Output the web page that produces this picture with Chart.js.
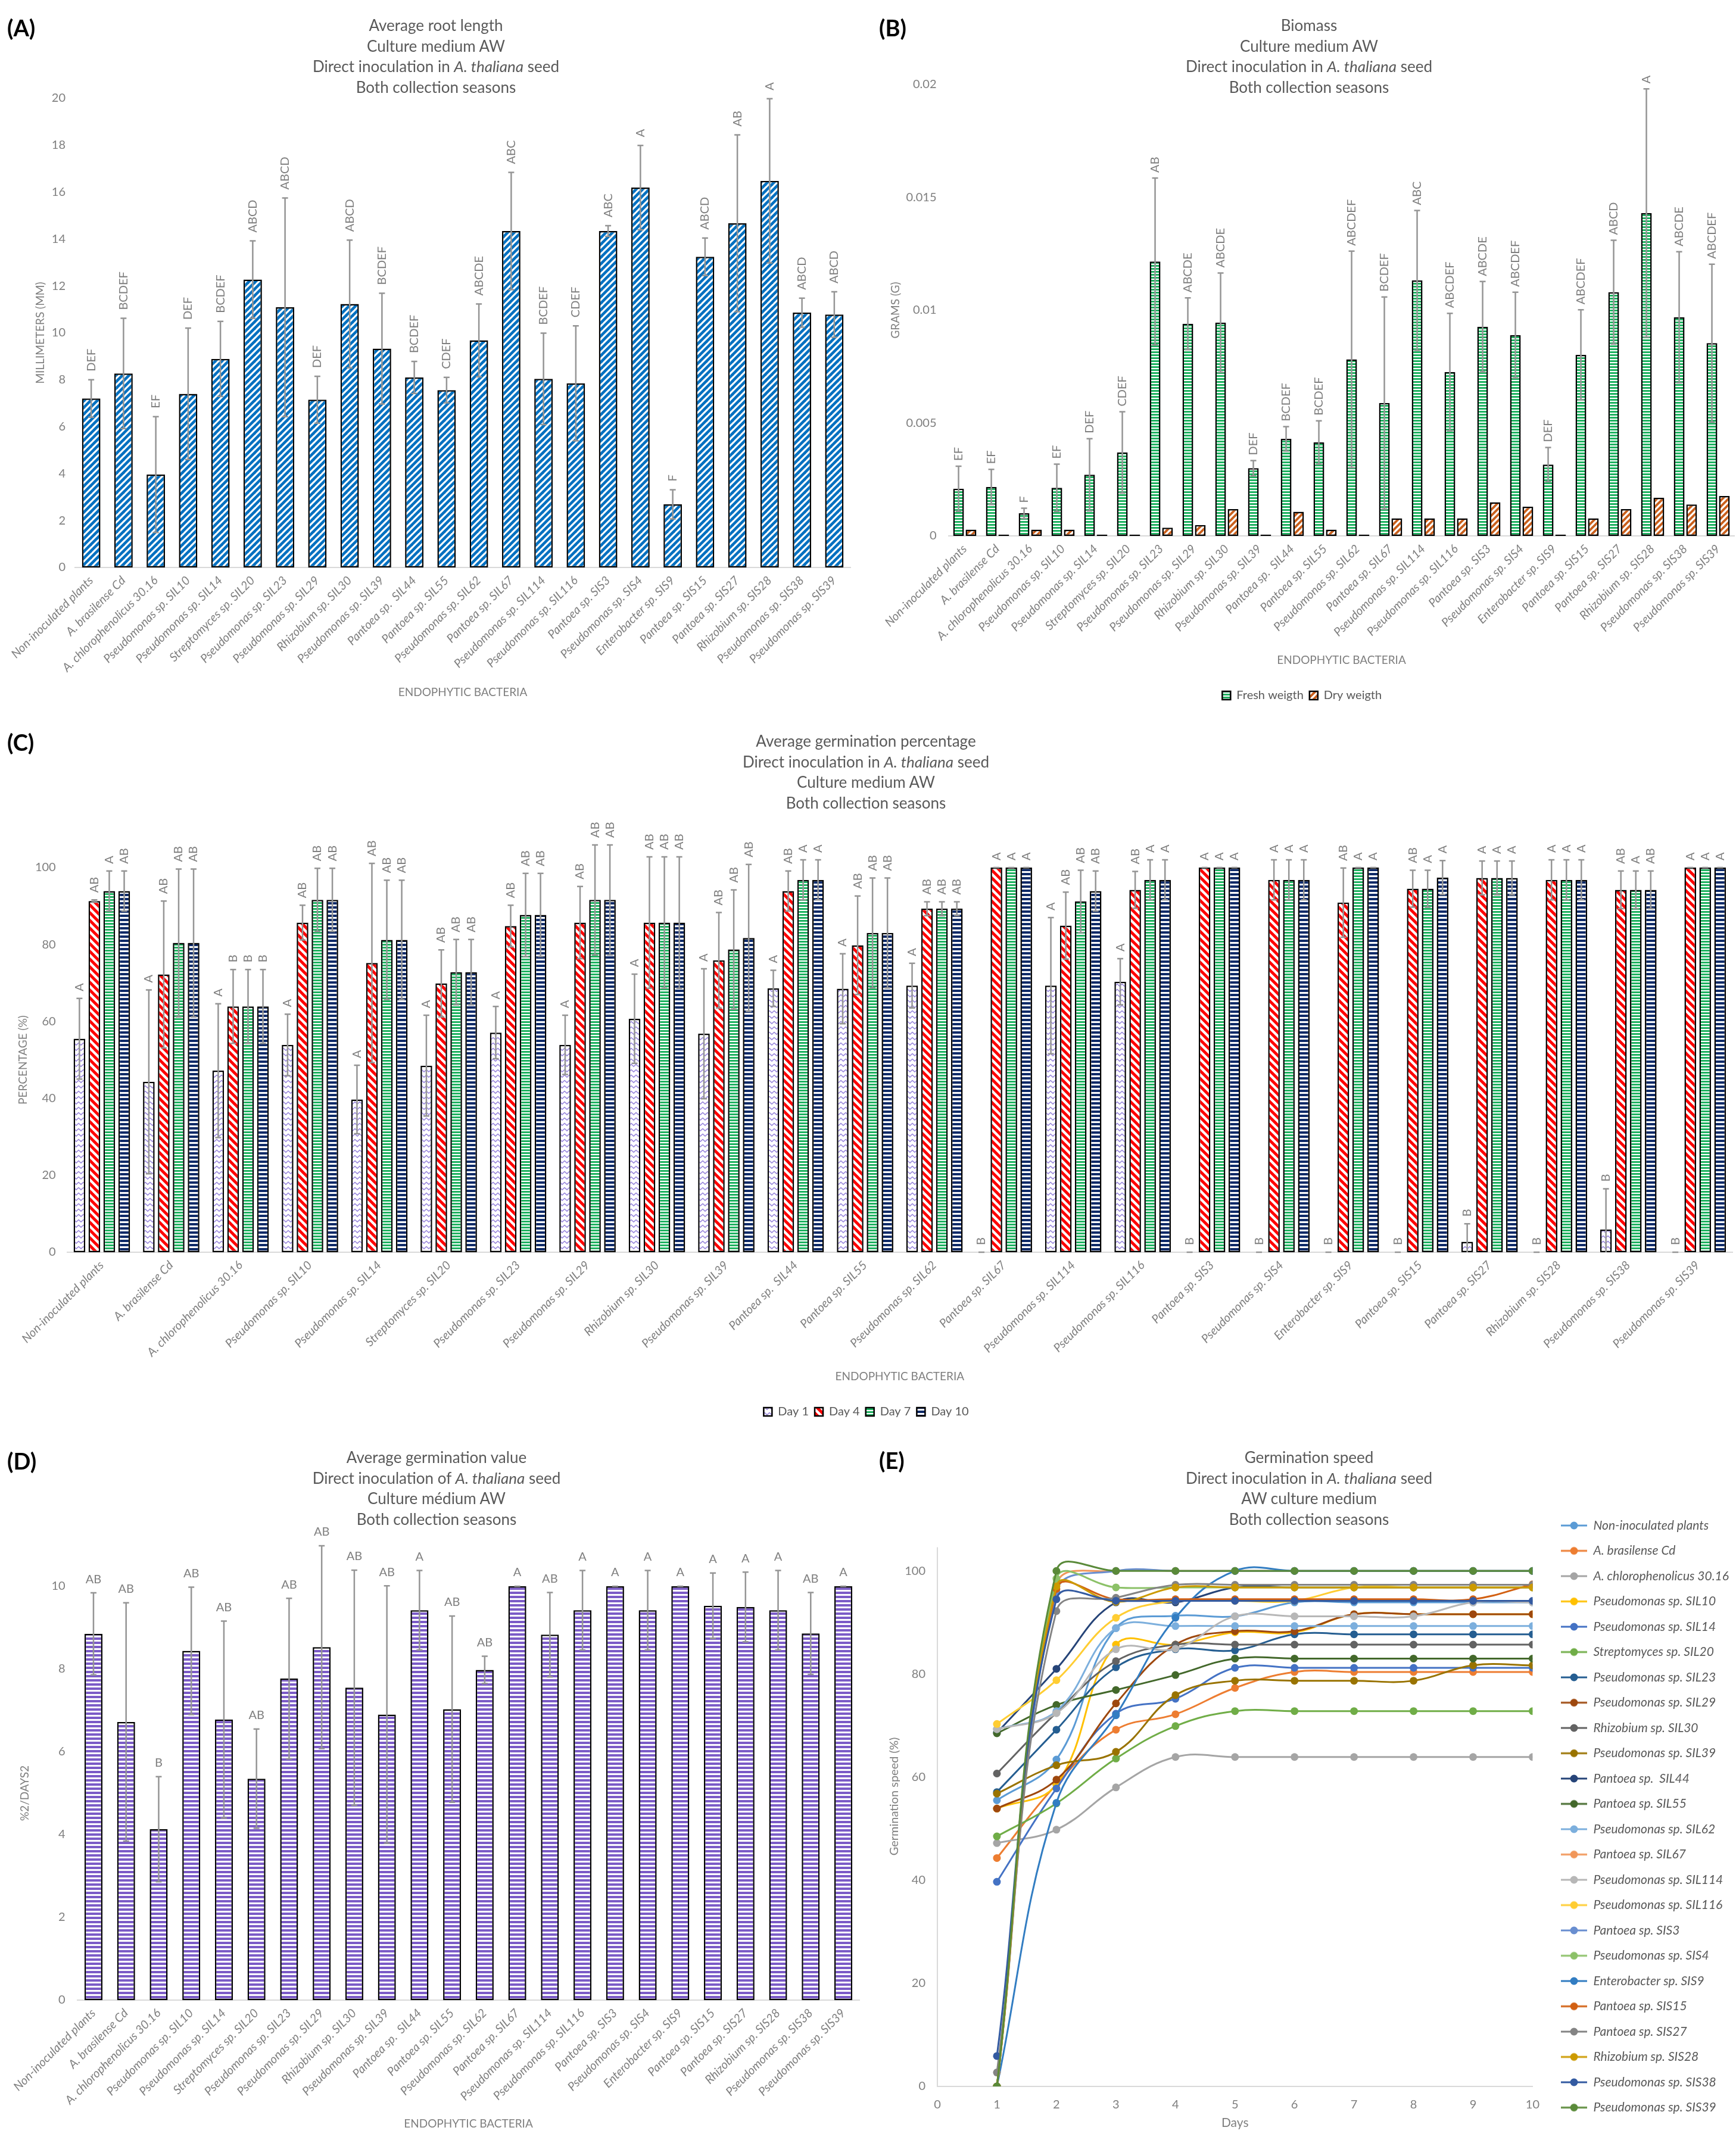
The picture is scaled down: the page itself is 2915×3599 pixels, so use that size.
<!DOCTYPE html>
<html>
<head>
<meta charset="utf-8">
<script src="https://cdn.jsdelivr.net/npm/chart.js@4.4.1/dist/chart.umd.min.js"></script>
<style>
  body { margin: 0; background: #fff; }
  #page { position: relative; width: 2915px; height: 3599px; overflow: hidden; font-family: Lato, "Liberation Sans", sans-serif; }
  canvas { position: absolute; }
  .plabel { position: absolute; font-weight: bold; font-size: 38px; line-height: 1; color: #000; }
  .ptitle { position: absolute; width: 900px; text-align: center; font-size: 26px; line-height: 34.5px; color: #595959; white-space: nowrap; }
</style>
</head>
<body>
<div id="page">
  <canvas id="cA" width="1460" height="1200" style="left:0;top:0"></canvas>
  <canvas id="cB" width="1455" height="1200" style="left:1460px;top:0"></canvas>
  <canvas id="cC" width="2915" height="1200" style="left:0;top:1200px"></canvas>
  <canvas id="cD" width="1460" height="1199" style="left:0;top:2400px"></canvas>
  <canvas id="cE" width="1455" height="1199" style="left:1460px;top:2400px"></canvas>

  <div class="plabel" style="left:12px;top:27px">(A)</div>
  <div class="plabel" style="left:1476px;top:27px">(B)</div>
  <div class="plabel" style="left:12px;top:1227px">(C)</div>
  <div class="plabel" style="left:12px;top:2434px">(D)</div>
  <div class="plabel" style="left:1476px;top:2433px">(E)</div>

  <div class="ptitle" style="left:282px;top:25px">Average root length<br>Culture medium AW<br>Direct inoculation in <i>A. thaliana</i> seed<br>Both collection seasons</div>
  <div class="ptitle" style="left:1748px;top:25px">Biomass<br>Culture medium AW<br>Direct inoculation in <i>A. thaliana</i> seed<br>Both collection seasons</div>
  <div class="ptitle" style="left:1004px;top:1227px">Average germination percentage<br>Direct inoculation in <i>A. thaliana</i> seed<br>Culture medium AW<br>Both collection seasons</div>
  <div class="ptitle" style="left:283px;top:2430px">Average germination value<br>Direct inoculation of <i>A. thaliana</i> seed<br>Culture médium AW<br>Both collection seasons</div>
  <div class="ptitle" style="left:1748px;top:2430px">Germination speed<br>Direct inoculation in <i>A. thaliana</i> seed<br>AW culture medium<br>Both collection seasons</div>
</div>

<script>
// ---- data ----
const catNames = ['Non-inoculated plants', 'A. brasilense Cd', 'A. chlorophenolicus 30.16', 'Pseudomonas sp. SIL10',
  'Pseudomonas sp. SIL14', 'Streptomyces sp. SIL20', 'Pseudomonas sp. SIL23', 'Pseudomonas sp. SIL29',
  'Rhizobium sp. SIL30', 'Pseudomonas sp. SIL39', 'Pantoea sp.  SIL44', 'Pantoea sp. SIL55',
  'Pseudomonas sp. SIL62', 'Pantoea sp. SIL67', 'Pseudomonas sp. SIL114', 'Pseudomonas sp. SIL116',
  'Pantoea sp. SIS3', 'Pseudomonas sp. SIS4', 'Enterobacter sp. SIS9', 'Pantoea sp. SIS15',
  'Pantoea sp. SIS27', 'Rhizobium sp. SIS28', 'Pseudomonas sp. SIS38', 'Pseudomonas sp. SIS39'];

// (A) root length, mm
const rootMean = [7.2, 8.27, 3.96, 7.4, 8.89, 12.27, 11.09, 7.15, 11.23, 9.33, 8.1, 7.56, 9.68, 14.34, 8.04, 7.85, 14.34, 16.19, 2.69, 13.24, 14.67, 16.48, 10.86, 10.78];
const rootErr = [0.8, 2.35, 2.47, 2.8, 1.6, 1.65, 4.66, 1.0, 2.72, 2.36, 0.68, 0.54, 1.55, 2.5, 1.95, 2.45, 0.23, 1.8, 0.62, 0.8, 3.77, 3.5, 0.62, 0.97];
const rootLetters = ['DEF', 'BCDEF', 'EF', 'DEF', 'BCDEF', 'ABCD', 'ABCD', 'DEF', 'ABCD', 'BCDEF', 'BCDEF', 'CDEF', 'ABCDE', 'ABC', 'BCDEF', 'CDEF', 'ABC', 'A', 'F', 'ABCD', 'AB', 'A', 'ABCD', 'ABCD'];

// (B) biomass, g
const freshMean = [0.00209, 0.00217, 0.0010, 0.00213, 0.00271, 0.0037, 0.01216, 0.0094, 0.00945, 0.0030, 0.0043, 0.00414, 0.00782, 0.00589, 0.01132, 0.00726, 0.00927, 0.0089, 0.00316, 0.00802, 0.0108, 0.01431, 0.00969, 0.00854];
const freshErr = [0.001, 0.00078, 0.00023, 0.00105, 0.0016, 0.0018, 0.0037, 0.00115, 0.0022, 0.00034, 0.00054, 0.00096, 0.0048, 0.0047, 0.0031, 0.0026, 0.002, 0.0019, 0.00076, 0.002, 0.0023, 0.0055, 0.0029, 0.0035];
const freshLetters = ['EF', 'EF', 'F', 'EF', 'DEF', 'CDEF', 'AB', 'ABCDE', 'ABCDE', 'DEF', 'BCDEF', 'BCDEF', 'ABCDEF', 'BCDEF', 'ABC', 'ABCDEF', 'ABCDE', 'ABCDEF', 'DEF', 'ABCDEF', 'ABCD', 'A', 'ABCDE', 'ABCDEF'];
const dryMean = [0.00028, 0.00006, 0.00028, 0.00028, 0.00006, 0.00006, 0.00036, 0.00048, 0.00119, 0.00006, 0.00107, 0.00028, 0.00006, 0.00078, 0.00078, 0.00078, 0.00149, 0.00129, 0.00006, 0.00078, 0.00119, 0.00169, 0.00139, 0.00177];

// (C) germination percentage
const germDay1 = [55.5, 44.3, 47.2, 53.9, 39.7, 48.5, 57.1, 53.9, 60.7, 56.8, 68.6, 68.5, 69.3, 0, 69.3, 70.3, 0, 0, 0, 0, 2.7, 0, 5.9, 0];
const errDay1 = [10.5, 23.9, 17.4, 8, 8.9, 13.1, 6.8, 7.7, 11.6, 16.9, 4.7, 9.1, 5.8, 0, 17.7, 6, 0, 0, 0, 0, 4.7, 0, 10.6, 0];
const letDay1 = ['A', 'A', 'A', 'A', 'A', 'A', 'A', 'A', 'A', 'A', 'A', 'A', 'A', 'B', 'A', 'A', 'B', 'B', 'B', 'B', 'B', 'B', 'B', 'B'];
const germDay4 = [91.3, 72.2, 63.9, 85.7, 75.2, 69.9, 84.8, 85.7, 85.7, 75.9, 93.9, 79.8, 89.3, 100, 84.9, 94.2, 100, 96.8, 90.9, 94.5, 97.3, 96.8, 94.2, 100];
const errDay4 = [0.3, 19.1, 9.6, 4.5, 25.9, 8.7, 5.4, 9.4, 17.1, 12.4, 5.2, 12.8, 1.8, 0, 8.7, 4.8, 0, 5.2, 9, 4.8, 4.4, 5.2, 4.9, 0];
const letDay4 = ['AB', 'AB', 'B', 'AB', 'AB', 'AB', 'AB', 'AB', 'AB', 'AB', 'AB', 'AB', 'AB', 'A', 'AB', 'AB', 'A', 'A', 'AB', 'AB', 'A', 'A', 'AB', 'A'];
const germDay7 = [93.9, 80.4, 63.9, 91.6, 81.2, 72.8, 87.7, 91.6, 85.7, 78.7, 96.8, 83.0, 89.3, 100, 91.2, 96.8, 100, 96.8, 100, 94.5, 97.3, 96.8, 94.2, 100];
const errDay7 = [5.2, 19.2, 9.6, 8.2, 15.5, 8.5, 10.8, 14.3, 17.1, 15.5, 5.2, 14.3, 1.8, 0, 8.1, 5.2, 0, 5.2, 0, 4.8, 4.4, 5.2, 4.9, 0];
const letDay7 = ['A', 'AB', 'B', 'AB', 'AB', 'AB', 'AB', 'AB', 'AB', 'AB', 'A', 'AB', 'AB', 'A', 'AB', 'A', 'A', 'A', 'A', 'A', 'A', 'A', 'A', 'A'];
const germDay10 = [93.9, 80.4, 63.9, 91.6, 81.2, 72.8, 87.7, 91.6, 85.7, 81.7, 96.8, 83.0, 89.3, 100, 93.9, 96.8, 100, 96.8, 100, 97.4, 97.3, 96.8, 94.2, 100];
const errDay10 = [5.2, 19.2, 9.6, 8.2, 15.5, 8.5, 10.8, 14.3, 17.1, 19.1, 5.2, 14.3, 1.8, 0, 5.2, 5.2, 0, 5.2, 0, 4.4, 4.4, 5.2, 4.9, 0];
const letDay10 = ['AB', 'AB', 'B', 'AB', 'AB', 'AB', 'AB', 'AB', 'AB', 'AB', 'A', 'AB', 'AB', 'A', 'AB', 'A', 'A', 'A', 'A', 'A', 'A', 'A', 'AB', 'A'];

// (D) germination value
const gvMean = [8.85, 6.72, 4.13, 8.44, 6.78, 5.35, 7.77, 8.53, 7.55, 6.9, 9.42, 7.03, 7.98, 10, 8.83, 9.42, 10, 9.42, 10, 9.53, 9.5, 9.42, 8.86, 10];
const gvErr = [0.99, 2.88, 1.27, 1.54, 2.38, 1.2, 1.94, 2.45, 2.84, 3.11, 0.96, 2.25, 0.33, 0, 1.02, 0.96, 0, 0.96, 0, 0.79, 0.84, 0.96, 0.99, 0];
const gvLetters = ['AB', 'AB', 'B', 'AB', 'AB', 'AB', 'AB', 'AB', 'AB', 'AB', 'A', 'AB', 'AB', 'A', 'AB', 'A', 'A', 'A', 'A', 'A', 'A', 'A', 'AB', 'A'];

// (E) germination speed, one row per strain (same order as catNames), days 1..10
const days = [1, 2, 3, 4, 5, 6, 7, 8, 9, 10];
const speedRows = [
  [55.5, 63.4, 88.9, 91.3, 91.2, 93.9, 93.9, 93.9, 93.9, 93.9],
  [44.3, 58.6, 69.2, 72.2, 77.3, 80.4, 80.4, 80.4, 80.4, 80.4],
  [47.2, 49.8, 58.0, 63.9, 63.9, 63.9, 63.9, 63.9, 63.9, 63.9],
  [53.9, 58.6, 85.7, 85.7, 88.1, 88.1, 91.6, 91.6, 91.6, 91.6],
  [39.7, 57.8, 72.3, 75.2, 81.2, 81.2, 81.2, 81.2, 81.2, 81.2],
  [48.5, 54.9, 63.6, 69.9, 72.8, 72.8, 72.8, 72.8, 72.8, 72.8],
  [57.1, 69.2, 81.3, 84.8, 84.6, 87.7, 87.7, 87.7, 87.7, 87.7],
  [53.9, 59.5, 74.3, 85.7, 88.3, 88.3, 91.6, 91.6, 91.6, 91.6],
  [60.7, 72.5, 82.5, 85.7, 85.7, 85.7, 85.7, 85.7, 85.7, 85.7],
  [56.8, 62.3, 64.9, 75.9, 78.7, 78.7, 78.7, 78.7, 81.7, 81.7],
  [68.6, 81.0, 93.9, 93.9, 96.8, 96.8, 96.8, 96.8, 96.8, 96.8],
  [68.5, 74.0, 76.9, 79.8, 83.0, 83.0, 83.0, 83.0, 83.0, 83.0],
  [69.3, 72.8, 88.9, 89.3, 89.3, 89.3, 89.3, 89.3, 89.3, 89.3],
  [0, 97.3, 100, 100, 100, 100, 100, 100, 100, 100],
  [69.3, 72.4, 84.8, 84.9, 91.2, 91.2, 91.2, 91.2, 93.9, 93.9],
  [70.3, 78.8, 90.9, 94.2, 94.2, 94.2, 96.8, 96.8, 96.8, 96.8],
  [0, 96.0, 100, 100, 100, 100, 100, 100, 100, 100],
  [0, 98.5, 96.8, 96.8, 96.8, 96.8, 96.8, 96.8, 96.8, 96.8],
  [0, 55.0, 72.0, 90.9, 100, 100, 100, 100, 100, 100],
  [0, 96.5, 94.5, 94.5, 94.5, 94.5, 94.5, 94.5, 94.5, 97.4],
  [2.7, 92.2, 94.8, 97.3, 97.3, 97.3, 97.3, 97.3, 97.3, 97.3],
  [0, 97.0, 94.0, 96.8, 96.8, 96.8, 96.8, 96.8, 96.8, 96.8],
  [5.9, 94.5, 94.2, 94.2, 94.2, 94.2, 94.2, 94.2, 94.2, 94.2],
  [0, 100, 100, 100, 100, 100, 100, 100, 100, 100]
];
const speedColors = ['#5B9BD5', '#ED7D31', '#A5A5A5', '#FFC000', '#4472C4', '#70AD47', '#255E91', '#9E480E',
  '#636363', '#997300', '#264478', '#43682B', '#7CAFDD', '#F1975A', '#B7B7B7', '#FFCD33',
  '#698ED0', '#8CC168', '#327DC2', '#D26012', '#848484', '#CC9A00', '#335AA1', '#5A8A39'];

// ---- look ----
const FONT = 'Lato, "Liberation Sans", sans-serif';
const GRAY = '#7f7f7f';
const AXIS = '#d9d9d9';
Chart.defaults.font.family = FONT;
Chart.defaults.color = GRAY;

// pattern tiles (Excel-like hatch fills)
function diagPattern(ctx, size, color, width, dir) {
  const c = document.createElement('canvas');
  c.width = c.height = size;
  const g = c.getContext('2d');
  g.fillStyle = '#fff'; g.fillRect(0, 0, size, size);
  g.strokeStyle = color; g.lineWidth = width;
  for (const k of [-1, 0, 1]) {
    const o = k * size;
    g.beginPath();
    if (dir === 'up') { g.moveTo(o - size, 2 * size); g.lineTo(o + 2 * size, -size); }
    else { g.moveTo(o - size, -size); g.lineTo(o + 2 * size, 2 * size); }
    g.stroke();
  }
  return ctx.createPattern(c, 'repeat');
}
function bandPattern(ctx, period, band, color) {
  const c = document.createElement('canvas');
  c.width = 4; c.height = period;
  const g = c.getContext('2d');
  g.fillStyle = '#fff'; g.fillRect(0, 0, 4, period);
  g.fillStyle = color; g.fillRect(0, 0, 4, band);
  return ctx.createPattern(c, 'repeat');
}
function zigPattern(ctx, color) {
  const c = document.createElement('canvas');
  c.width = 8; c.height = 9;
  const g = c.getContext('2d');
  g.fillStyle = '#fff'; g.fillRect(0, 0, 8, 9);
  g.strokeStyle = color; g.lineWidth = 1.6;
  g.beginPath(); g.moveTo(-1, 7); g.lineTo(4, 2.5); g.lineTo(9, 7); g.stroke();
  return ctx.createPattern(c, 'repeat');
}

// error bars + significance letters drawn from the bar elements and the y scale
const errLetters = {
  id: 'errLetters',
  afterDatasetsDraw(chart) {
    const ctx = chart.ctx, y = chart.scales.y;
    chart.data.datasets.forEach((ds, di) => {
      if (!ds.err) return;
      const meta = chart.getDatasetMeta(di);
      meta.data.forEach((bar, i) => {
        const v = ds.data[i], e = ds.err[i];
        const top = y.getPixelForValue(v + e);
        const bot = y.getPixelForValue(Math.max(0, v - e));
        ctx.save();
        ctx.strokeStyle = '#959595';
        ctx.lineWidth = 2.5;
        ctx.beginPath();
        ctx.moveTo(bar.x, top); ctx.lineTo(bar.x, bot);
        ctx.moveTo(bar.x - ds.cap, top); ctx.lineTo(bar.x + ds.cap, top);
        if (v - e > 0) { ctx.moveTo(bar.x - ds.cap, bot); ctx.lineTo(bar.x + ds.cap, bot); }
        ctx.stroke();
        if (ds.letters) {
          ctx.fillStyle = GRAY;
          ctx.font = '20px ' + FONT;
          if (ds.letterRot) {
            ctx.translate(bar.x, top - ds.letterGap);
            ctx.rotate(-Math.PI / 2);
            ctx.textAlign = 'left'; ctx.textBaseline = 'middle';
            ctx.fillText(ds.letters[i], 0, 0);
          } else {
            ctx.textAlign = 'center'; ctx.textBaseline = 'middle';
            ctx.fillText(ds.letters[i], bar.x, top - ds.letterGap);
          }
        }
        ctx.restore();
      });
    });
  }
};

function catAxis(height, titlePad) {
  return {
    type: 'category', offset: true,
    grid: { display: false, drawTicks: false },
    border: { display: true, color: AXIS, width: 2 },
    ticks: { autoSkip: false, minRotation: 45, maxRotation: 45, padding: 10, color: GRAY, font: { size: 20, style: 'italic' } },
    title: { display: true, text: 'ENDOPHYTIC BACTERIA', color: GRAY, font: { size: 19 }, padding: { top: 0, bottom: titlePad } },
    afterFit: s => { s.height = height; s.paddingLeft = 0; s.paddingRight = 0; }
  };
}
function valAxis(o) {
  const ax = {
    min: 0, max: o.max,
    grid: { display: false, drawTicks: false },
    border: { display: false },
    ticks: { stepSize: o.step, padding: o.tickPad, color: GRAY, font: { size: 20 } },
    title: { display: true, text: o.title, color: GRAY, font: { size: 19 }, padding: { top: o.titlePad, bottom: 0 } },
    afterFit: s => { s.width = o.width; s.paddingTop = 0; s.paddingBottom = 0; }
  };
  if (o.fmt) ax.ticks.callback = o.fmt;
  return ax;
}
const base = { responsive: false, animation: false, devicePixelRatio: 1, events: [] };

// ---- (A) ----
(function () {
  const ctx = document.getElementById('cA').getContext('2d');
  new Chart(ctx, {
    type: 'bar',
    data: {
      labels: catNames,
      datasets: [{
        data: rootMean, err: rootErr, letters: rootLetters, letterRot: true, letterGap: 14, cap: 5,
        backgroundColor: diagPattern(ctx, 11, '#0070C0', 4.6, 'up'),
        borderColor: '#000', borderWidth: 2.5, borderSkipped: false,
        barPercentage: 0.57, categoryPercentage: 1
      }]
    },
    options: Object.assign({}, base, {
      layout: { padding: { top: 165, left: 0, right: 32, bottom: 0 } },
      plugins: { legend: { display: false }, tooltip: { enabled: false } },
      scales: {
        x: catAxis(247, 26),
        y: valAxis({ max: 20, step: 2, tickPad: 16, title: 'MILLIMETERS (MM)', titlePad: 56, width: 126 })
      }
    }),
    plugins: [errLetters]
  });
})();

// ---- (B) ----
(function () {
  const ctx = document.getElementById('cB').getContext('2d');
  new Chart(ctx, {
    type: 'bar',
    data: {
      labels: catNames,
      datasets: [{
        label: 'Fresh weigth', data: freshMean, err: freshErr, letters: freshLetters, letterRot: true, letterGap: 9, cap: 5,
        backgroundColor: bandPattern(ctx, 5, 3, '#1DB15F'),
        borderColor: '#000', borderWidth: 2.5, borderSkipped: false,
        barPercentage: 0.86, categoryPercentage: 0.76
      }, {
        label: 'Dry weigth', data: dryMean,
        backgroundColor: diagPattern(ctx, 10, '#C95F1C', 3.8, 'up'),
        borderColor: '#000', borderWidth: 2.5, borderSkipped: false,
        barPercentage: 0.86, categoryPercentage: 0.76
      }]
    },
    options: Object.assign({}, base, {
      layout: { padding: { top: 142, left: 0, right: 2.5, bottom: 12 } },
      plugins: {
        tooltip: { enabled: false },
        legend: { position: 'bottom', labels: { boxWidth: 14, boxHeight: 14, padding: 10, color: '#595959', font: { size: 20 } } }
      },
      scales: {
        x: catAxis(248, 28),
        y: valAxis({ max: 0.02, step: 0.005, tickPad: 20, title: 'GRAMS (G)', titlePad: 32, width: 132.5, fmt: v => String(+v.toFixed(4)) })
      }
    }),
    plugins: [errLetters]
  });
})();

// ---- (C) ----
(function () {
  const ctx = document.getElementById('cC').getContext('2d');
  const common = { borderColor: '#000', borderWidth: 2.5, borderSkipped: false, barPercentage: 0.78, categoryPercentage: 0.86, letterRot: true, letterGap: 12, cap: 5 };
  new Chart(ctx, {
    type: 'bar',
    data: {
      labels: catNames,
      datasets: [
        Object.assign({ label: 'Day 1', data: germDay1, err: errDay1, letters: letDay1, backgroundColor: zigPattern(ctx, '#9A88DC') }, common),
        Object.assign({ label: 'Day 4', data: germDay4, err: errDay4, letters: letDay4, backgroundColor: diagPattern(ctx, 13, '#FF0000', 4.8, 'down') }, common),
        Object.assign({ label: 'Day 7', data: germDay7, err: errDay7, letters: letDay7, backgroundColor: bandPattern(ctx, 5, 3, '#1DB15F') }, common),
        Object.assign({ label: 'Day 10', data: germDay10, err: errDay10, letters: letDay10, backgroundColor: bandPattern(ctx, 7, 4, '#0E2A68') }, common)
      ]
    },
    options: Object.assign({}, base, {
      layout: { padding: { top: 257, left: 0, right: 6, bottom: 9 } },
      plugins: {
        tooltip: { enabled: false },
        legend: { position: 'bottom', labels: { boxWidth: 14, boxHeight: 14, padding: 10, color: '#595959', font: { size: 20 } } }
      },
      scales: {
        x: catAxis(248, 28),
        y: valAxis({ max: 100, step: 20, tickPad: 19, title: 'PERCENTAGE (%)', titlePad: 27, width: 112.7 })
      }
    }),
    plugins: [errLetters]
  });
})();

// ---- (D) ----
(function () {
  const ctx = document.getElementById('cD').getContext('2d');
  new Chart(ctx, {
    type: 'bar',
    data: {
      labels: catNames,
      datasets: [{
        data: gvMean, err: gvErr, letters: gvLetters, letterRot: false, letterGap: 23, cap: 5,
        backgroundColor: bandPattern(ctx, 7, 4, '#7B5BC7'),
        borderColor: '#000', borderWidth: 2.5, borderSkipped: false,
        barPercentage: 0.55, categoryPercentage: 1
      }]
    },
    options: Object.assign({}, base, {
      layout: { padding: { top: 264, left: 0, right: 16.6, bottom: 0 } },
      plugins: { legend: { display: false }, tooltip: { enabled: false } },
      scales: {
        x: catAxis(240, 21),
        y: valAxis({ max: 10, step: 2, tickPad: 20, title: '%2/DAYS2', titlePad: 30, width: 129.6 })
      }
    }),
    plugins: [errLetters]
  });
})();

// ---- (E) ----
(function () {
  const ctx = document.getElementById('cE').getContext('2d');
  const axisTop = 104.6;
  function lineMarker(color) {
    const c = document.createElement('canvas');
    c.width = 70; c.height = 16;
    const g = c.getContext('2d');
    g.strokeStyle = color; g.lineWidth = 3;
    g.beginPath(); g.moveTo(26, 8); g.lineTo(70, 8); g.stroke();
    g.fillStyle = color;
    g.beginPath(); g.arc(48, 8, 6.5, 0, Math.PI * 2); g.fill();
    return c;
  }
  const yLine = {
    id: 'yLine',
    beforeDatasetsDraw(chart) {
      const { ctx, chartArea, scales: { y } } = chart;
      ctx.save();
      ctx.strokeStyle = AXIS; ctx.lineWidth = 2;
      ctx.beginPath();
      ctx.moveTo(chartArea.left, y.getPixelForValue(0));
      ctx.lineTo(chartArea.left, y.getPixelForValue(axisTop));
      ctx.stroke();
      ctx.restore();
    }
  };
  new Chart(ctx, {
    type: 'line',
    data: {
      datasets: speedRows.map((row, i) => ({
        label: catNames[i],
        data: days.map((d, k) => ({ x: d, y: row[k] })),
        borderColor: speedColors[i], backgroundColor: speedColors[i],
        pointBackgroundColor: speedColors[i], pointBorderColor: speedColors[i],
        borderWidth: 3, pointRadius: 6.5, pointBorderWidth: 0,
        tension: 0.4, order: speedRows.length - i
      }))
    },
    options: Object.assign({}, base, {
      layout: { padding: { top: 130, left: 0, right: 2, bottom: 0 } },
      plugins: {
        tooltip: { enabled: false },
        legend: {
          position: 'right', align: 'start', maxWidth: 345,
          labels: {
            usePointStyle: true, pointStyleWidth: 70, padding: 21.5,
            color: '#595959', font: { size: 21, style: 'italic' },
            generateLabels: chart => chart.data.datasets.map((ds, i) => ({
              text: ds.label, pointStyle: lineMarker(ds.borderColor),
              fillStyle: ds.borderColor, strokeStyle: ds.borderColor, lineWidth: 0,
              hidden: false, datasetIndex: i, fontColor: '#595959'
            }))
          }
        }
      },
      scales: {
        x: {
          type: 'linear', min: 0, max: 10,
          grid: { display: false, drawTicks: false },
          border: { display: true, color: AXIS, width: 2 },
          ticks: { stepSize: 1, padding: 19, color: GRAY, font: { size: 20 } },
          title: { display: true, text: 'Days', color: GRAY, font: { size: 21 }, padding: { top: 0, bottom: 21 } },
          afterFit: s => { s.height = 95; s.paddingLeft = 0; s.paddingRight = 0; }
        },
        y: {
          type: 'linear', min: 0, max: 112.5,
          grid: { display: false, drawTicks: false },
          border: { display: false },
          ticks: { stepSize: 20, padding: 20, color: GRAY, font: { size: 20 } },
          afterBuildTicks: s => { s.ticks = s.ticks.filter(t => t.value <= 100 + 1e-9); },
          title: { display: true, text: 'Germination speed (%)', color: GRAY, font: { size: 20 }, padding: { top: 30, bottom: 0 } },
          afterFit: s => { s.width = 114; s.paddingTop = 0; s.paddingBottom = 0; }
        }
      }
    }),
    plugins: [yLine]
  });
})();
</script>
</body>
</html>
